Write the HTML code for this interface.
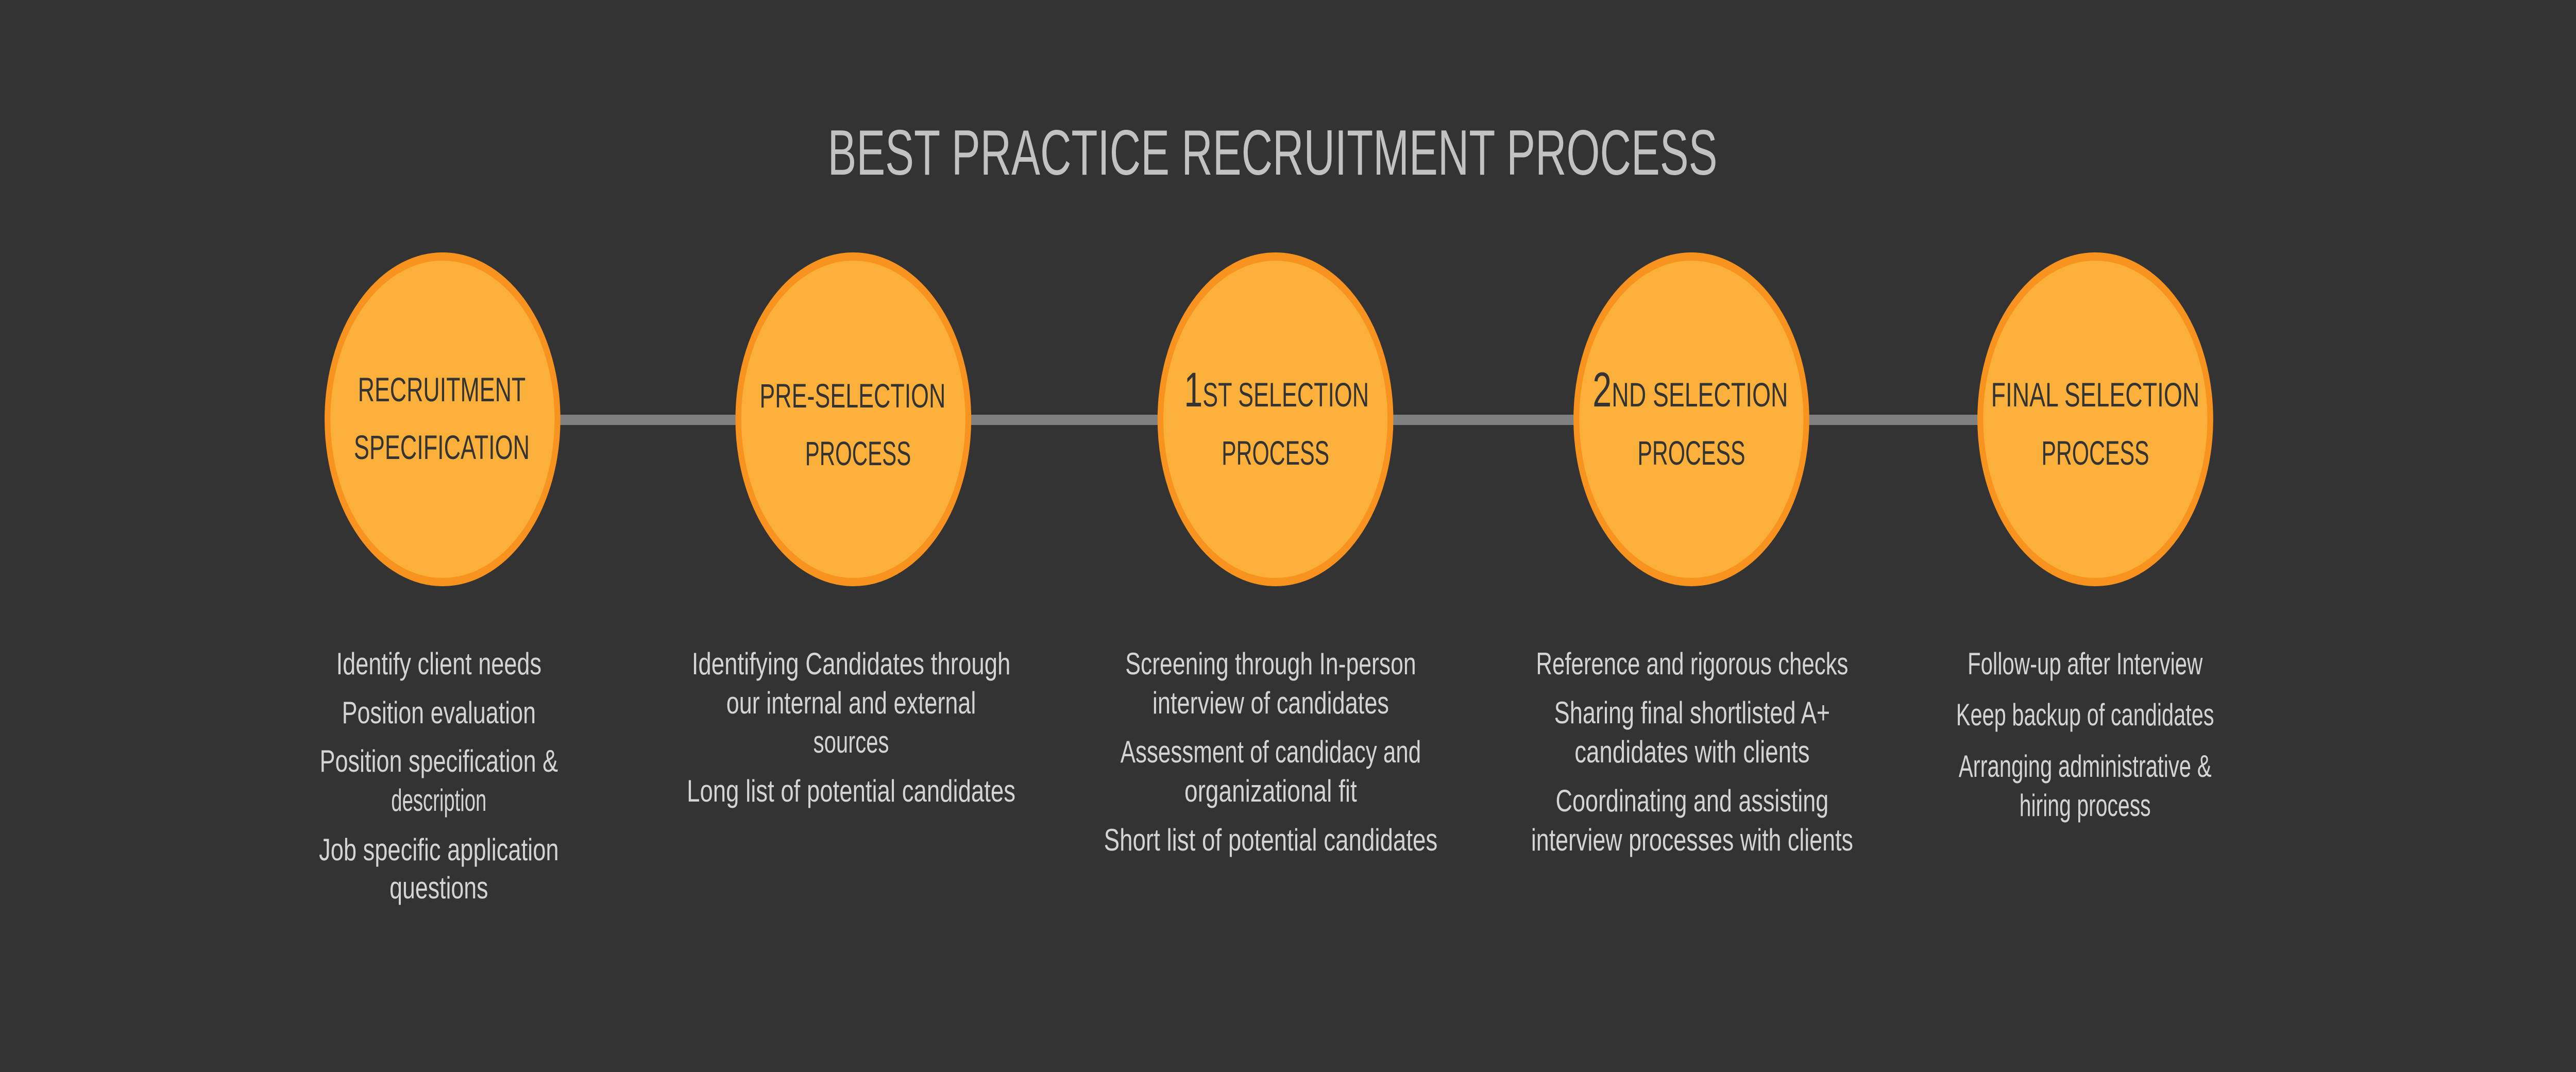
<!DOCTYPE html>
<html><head><meta charset="utf-8"><style>
html,body{margin:0;padding:0;background:#333333;width:100vw;height:100vh;overflow:hidden;}
svg{display:block;width:100vw;height:100vh;}
text{font-family:"Liberation Sans",sans-serif;}
.t{fill:#d4d4d4;font-size:60px;}
.c{fill:#333333;font-size:66px;}
</style></head><body>
<svg viewBox="0 0 7079 2081" preserveAspectRatio="none" xmlns="http://www.w3.org/2000/svg">
<rect width="7079" height="2081" fill="#333333"/>
<text x="3497" y="339" text-anchor="middle" font-size="124" fill="#c2c2c2" textLength="2445" lengthAdjust="spacingAndGlyphs">BEST PRACTICE RECRUITMENT PROCESS</text>
<rect x="1216" y="805" width="4542" height="20" fill="#808080"/>
<g fill="#fbb03b" stroke="#f7931e" stroke-width="16">
<circle cx="1216" cy="814" r="316"/>
<circle cx="2345" cy="814" r="316"/>
<circle cx="3505" cy="814" r="316"/>
<circle cx="4648" cy="814" r="316"/>
<circle cx="5758" cy="814" r="316"/>
</g>
<g class="c" text-anchor="middle">
<text x="1214" y="779" textLength="461" lengthAdjust="spacingAndGlyphs">RECRUITMENT</text>
<text x="1214" y="891" textLength="483" lengthAdjust="spacingAndGlyphs">SPECIFICATION</text>
<text x="2343" y="791" textLength="511" lengthAdjust="spacingAndGlyphs">PRE-SELECTION</text>
<text x="2358" y="903" textLength="291" lengthAdjust="spacingAndGlyphs">PROCESS</text>
<text x="3508" y="789" textLength="508" lengthAdjust="spacingAndGlyphs"><tspan font-size="95">1</tspan>ST SELECTION</text>
<text x="3505" y="902" textLength="296" lengthAdjust="spacingAndGlyphs">PROCESS</text>
<text x="4645" y="789" textLength="537" lengthAdjust="spacingAndGlyphs"><tspan font-size="95">2</tspan>ND SELECTION</text>
<text x="4648" y="902" textLength="296" lengthAdjust="spacingAndGlyphs">PROCESS</text>
<text x="5758" y="789" textLength="573" lengthAdjust="spacingAndGlyphs">FINAL SELECTION</text>
<text x="5758" y="902" textLength="296" lengthAdjust="spacingAndGlyphs">PROCESS</text>
</g>
<g class="t" text-anchor="middle">
<text x="1206" y="1309" textLength="564" lengthAdjust="spacingAndGlyphs">Identify client needs</text>
<text x="1206" y="1404" textLength="533" lengthAdjust="spacingAndGlyphs">Position evaluation</text>
<text x="1206" y="1498" textLength="655" lengthAdjust="spacingAndGlyphs">Position specification &amp;</text>
<text x="1206" y="1574" textLength="262" lengthAdjust="spacingAndGlyphs">description</text>
<text x="1206" y="1670" textLength="659" lengthAdjust="spacingAndGlyphs">Job specific application</text>
<text x="1206" y="1744" textLength="271" lengthAdjust="spacingAndGlyphs">questions</text>

<text x="2339" y="1309" textLength="876" lengthAdjust="spacingAndGlyphs">Identifying Candidates through</text>
<text x="2339" y="1385" textLength="686" lengthAdjust="spacingAndGlyphs">our internal and external</text>
<text x="2339" y="1461" textLength="208" lengthAdjust="spacingAndGlyphs">sources</text>
<text x="2339" y="1556" textLength="903" lengthAdjust="spacingAndGlyphs">Long list of potential candidates</text>

<text x="3492" y="1309" textLength="799" lengthAdjust="spacingAndGlyphs">Screening through In-person</text>
<text x="3492" y="1385" textLength="650" lengthAdjust="spacingAndGlyphs">interview of candidates</text>
<text x="3492" y="1480" textLength="826" lengthAdjust="spacingAndGlyphs">Assessment of candidacy and</text>
<text x="3492" y="1556" textLength="474" lengthAdjust="spacingAndGlyphs">organizational fit</text>
<text x="3492" y="1651" textLength="917" lengthAdjust="spacingAndGlyphs">Short list of potential candidates</text>

<text x="4650" y="1309" textLength="858" lengthAdjust="spacingAndGlyphs">Reference and rigorous checks</text>
<text x="4650" y="1404" textLength="758" lengthAdjust="spacingAndGlyphs">Sharing final shortlisted A+</text>
<text x="4650" y="1480" textLength="646" lengthAdjust="spacingAndGlyphs">candidates with clients</text>
<text x="4650" y="1575" textLength="750" lengthAdjust="spacingAndGlyphs">Coordinating and assisting</text>
<text x="4650" y="1651" textLength="885" lengthAdjust="spacingAndGlyphs">interview processes with clients</text>

<text x="5730" y="1309" textLength="646" lengthAdjust="spacingAndGlyphs">Follow-up after Interview</text>
<text x="5730" y="1408" textLength="709" lengthAdjust="spacingAndGlyphs">Keep backup of candidates</text>
<text x="5730" y="1508" textLength="695" lengthAdjust="spacingAndGlyphs">Arranging administrative &amp;</text>
<text x="5730" y="1584" textLength="361" lengthAdjust="spacingAndGlyphs">hiring process</text>
</g>
</svg>
</body></html>
